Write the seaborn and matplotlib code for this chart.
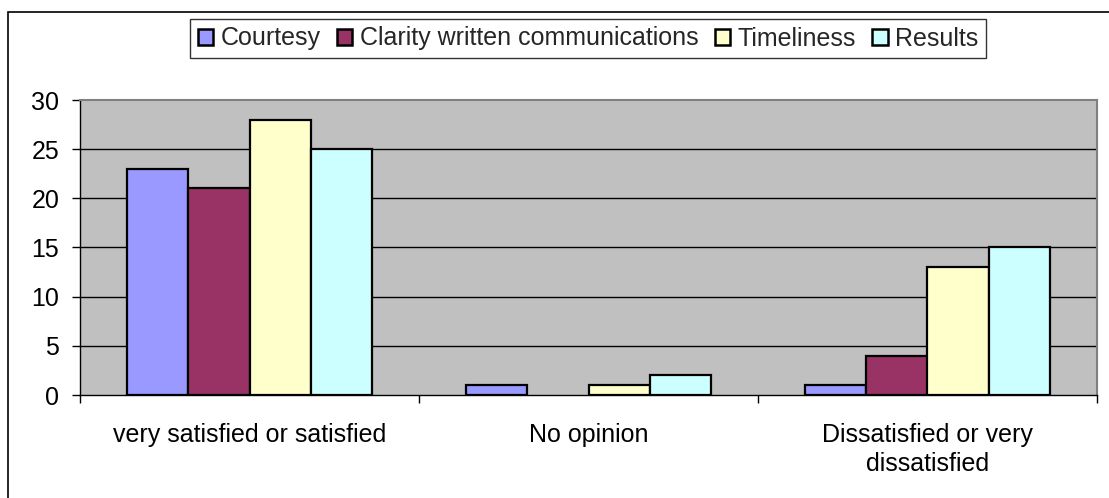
import matplotlib
matplotlib.use("Agg")
import matplotlib.pyplot as plt
import seaborn as sns
import pandas as pd
from matplotlib.patches import Rectangle

categories = ["very satisfied or satisfied", "No opinion", "Dissatisfied or very\ndissatisfied"]
series = ["Courtesy", "Clarity written communications", "Timeliness", "Results"]
courtesy = [23, 1, 1]
clarity = [21, 0, 4]
timeliness = [28, 1, 13]
results = [25, 2, 15]
colors = ["#9999FF", "#993366", "#FFFFCC", "#CCFFFF"]

values = [courtesy, clarity, timeliness, results]
rows = []
for name, vals in zip(series, values):
    for cat, v in zip(categories, vals):
        rows.append({"category": cat, "series": name, "value": v})
df = pd.DataFrame(rows)

sns.set_theme(style="white")
plt.rcParams["font.family"] = ["Liberation Sans", "DejaVu Sans"]

W, H = 1109, 498
FS = 18
fig = plt.figure(figsize=(W / 100, H / 100), dpi=100)
ax = fig.add_axes([80 / W, 103 / H, (1097 - 80) / W, (395 - 100) / H])

sns.barplot(data=df, x="category", y="value", hue="series", order=categories,
            hue_order=series, palette=colors, width=0.72, edgecolor="black",
            linewidth=1.6, saturation=1, ax=ax, legend=True)

# empty bars carry no outline
for bar in ax.patches:
    if bar.get_height() == 0:
        bar.set_linewidth(0)

ax.set_facecolor("#C0C0C0")
ax.set_xlim(-0.5, 2.5)
ax.set_ylim(0, 30)
ax.set_yticks(range(0, 31, 5))
ax.set_xlabel("")
ax.set_ylabel("")
for y in range(5, 30, 5):
    ax.axhline(y, color="black", linewidth=1, zorder=0.5)

for side in ["top", "right"]:
    ax.spines[side].set_color("#808080")
    ax.spines[side].set_linewidth(1.5)
for side in ["left", "bottom"]:
    ax.spines[side].set_color("black")
    ax.spines[side].set_linewidth(1)

ax.tick_params(axis="y", which="both", left=True, length=6, width=1, color="black",
               labelsize=FS, pad=9, labelcolor="black")
ax.tick_params(axis="x", which="major", bottom=False, labelsize=FS, pad=14,
               labelcolor="black")
ax.set_xticks([-0.5, 0.5, 1.5, 2.5], minor=True)
ax.tick_params(axis="x", which="minor", bottom=True, length=6, width=1, color="black")
for lbl in ax.get_xticklabels():
    lbl.set_horizontalalignment("center")
    lbl.set_multialignment("center")
    lbl.set_linespacing(1.3)

handles, labels = ax.get_legend_handles_labels()
ax.get_legend().remove()
leg = fig.legend(handles, labels, loc="center", bbox_to_anchor=(588 / W, 1 - 38.5 / H),
                 ncol=4, fontsize=FS, frameon=True, fancybox=False, shadow=False,
                 handlelength=0.62, handleheight=0.62, handletextpad=0.3,
                 columnspacing=0.65, borderpad=0.3, borderaxespad=0)
leg.get_frame().set_edgecolor("black")
leg.get_frame().set_linewidth(1)
for p in leg.get_patches():
    p.set_edgecolor("black")
    p.set_linewidth(1.8)

# chart frame
fig.patches.append(Rectangle((8 / W, -0.1), 1.2, 1 - 12 / H + 0.1, transform=fig.transFigure,
                             fill=False, edgecolor="black", linewidth=1.2))

fig.savefig("out.png", dpi=100)
